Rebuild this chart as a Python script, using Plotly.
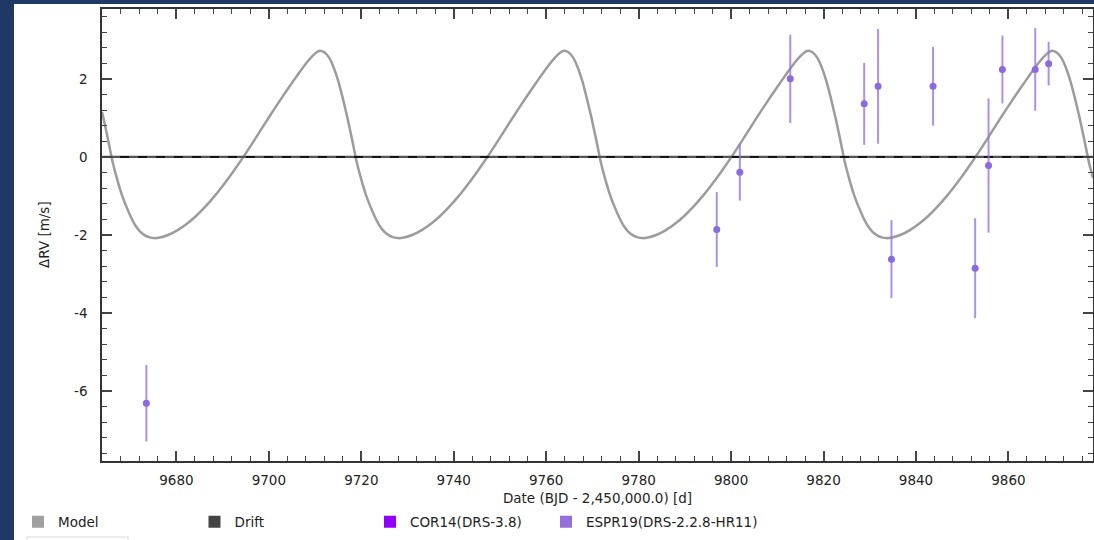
import plotly.graph_objects as go

# ---------------- data ----------------
model_days = [
    9663.9, 9664.2, 9665.2, 9666.2, 9667.2, 9668.2, 9669.2, 9670.2, 9671.2, 9672.2,
    9673.2, 9674.2, 9675.2, 9676.2, 9678.2, 9680.2, 9682.2, 9684.2, 9686.2, 9688.2,
    9690.2, 9692.2, 9694.2, 9696.2, 9698.2, 9700.2, 9702.2, 9704.2, 9706.2, 9708.2,
    9709.2, 9710.2, 9711.0,
    9712.0, 9713.0, 9714.0, 9715.0, 9716.0, 9717.0, 9718.0, 9719.0, 9720.0, 9721.0,
    9722.0, 9723.0, 9724.0, 9725.0, 9726.0, 9727.0, 9728.0, 9729.0, 9731.0, 9733.0,
    9735.0, 9737.0, 9739.0, 9741.0, 9743.0, 9745.0, 9747.0, 9749.0, 9751.0, 9753.0,
    9755.0, 9757.0, 9759.0, 9761.0, 9762.0, 9763.0, 9763.8,
    9764.8, 9765.8, 9766.8, 9767.8, 9768.8, 9769.8, 9770.8, 9771.8, 9772.8, 9773.8,
    9774.8, 9775.8, 9776.8, 9777.8, 9778.8, 9779.8, 9780.8, 9781.8, 9783.8, 9785.8,
    9787.8, 9789.8, 9791.8, 9793.8, 9795.8, 9797.8, 9799.8, 9801.8, 9803.8, 9805.8,
    9807.8, 9809.8, 9811.8, 9813.8, 9814.8, 9815.8, 9816.6,
    9817.6, 9818.6, 9819.6, 9820.6, 9821.6, 9822.6, 9823.6, 9824.6, 9825.6, 9826.6,
    9827.6, 9828.6, 9829.6, 9830.6, 9831.6, 9832.6, 9833.6, 9834.6, 9836.6, 9838.6,
    9840.6, 9842.6, 9844.6, 9846.6, 9848.6, 9850.6, 9852.6, 9854.6, 9856.6, 9858.6,
    9860.6, 9862.6, 9864.6, 9866.6, 9867.6, 9868.6, 9869.4,
    9870.4, 9871.4, 9872.4, 9873.4, 9874.4, 9875.4, 9876.4, 9877.4, 9878.3,
]
model_rv = [
    1.15, 1.00, 0.45, -0.13, -0.58, -0.97, -1.28, -1.55, -1.77, -1.92,
    -2.01, -2.06, -2.08, -2.07, -2.00, -1.88, -1.72, -1.52, -1.28, -1.01,
    -0.71, -0.39, -0.05, 0.31, 0.68, 1.05, 1.41, 1.76, 2.10, 2.42,
    2.56, 2.67, 2.72,
    2.68, 2.55, 2.30, 1.95, 1.50, 1.00, 0.45, -0.13, -0.58, -0.97,
    -1.28, -1.55, -1.77, -1.92, -2.01, -2.06, -2.08, -2.07, -2.00, -1.88,
    -1.72, -1.52, -1.28, -1.01, -0.71, -0.39, -0.05, 0.31, 0.68, 1.05,
    1.41, 1.76, 2.10, 2.42, 2.56, 2.67, 2.72,
    2.68, 2.55, 2.30, 1.95, 1.50, 1.00, 0.45, -0.13, -0.58, -0.97,
    -1.28, -1.55, -1.77, -1.92, -2.01, -2.06, -2.08, -2.07, -2.00, -1.88,
    -1.72, -1.52, -1.28, -1.01, -0.71, -0.39, -0.05, 0.31, 0.68, 1.05,
    1.41, 1.76, 2.10, 2.42, 2.56, 2.67, 2.72,
    2.68, 2.55, 2.30, 1.95, 1.50, 1.00, 0.45, -0.13, -0.58, -0.97,
    -1.28, -1.55, -1.77, -1.92, -2.01, -2.06, -2.08, -2.07, -2.00, -1.88,
    -1.72, -1.52, -1.28, -1.01, -0.71, -0.39, -0.05, 0.31, 0.68, 1.05,
    1.41, 1.76, 2.10, 2.42, 2.56, 2.67, 2.72,
    2.68, 2.55, 2.30, 1.95, 1.50, 1.00, 0.45, -0.13, -0.54,
]

drift_days = [9663.9, 9878.3]
drift_rv = [0.0, 0.0]

espr_days = [9673.5, 9796.9, 9801.9, 9812.8, 9828.8, 9831.8, 9834.7,
             9843.7, 9852.8, 9855.7, 9858.7, 9865.8, 9868.7]
espr_rv = [-6.31, -1.86, -0.39, 2.00, 1.36, 1.81, -2.62,
           1.81, -2.85, -0.22, 2.24, 2.24, 2.39]
espr_err = [0.98, 0.96, 0.73, 1.13, 1.05, 1.47, 1.00,
            1.01, 1.28, 1.72, 0.87, 1.06, 0.56]

x_tick_vals = [9680, 9700, 9720, 9740, 9760, 9780, 9800, 9820, 9840, 9860]
x_tick_text = ["9680", "9700", "9720", "9740", "9760", "9780", "9800", "9820", "9840", "9860"]
y_tick_vals = [-6, -4, -2, 0, 2]
y_tick_text = ["-6", "-4", "-2", "0", "2"]

legend_names = ["Model", "Drift", "COR14(DRS-3.8)", "ESPR19(DRS-2.2.8-HR11)"]
legend_colors = ["#a0a0a0", "#444444", "#8f00ff", "#9370db"]

x_range = [9663.9, 9878.3]
y_range = [-7.79, 3.79]

FONT = "DejaVu Sans"
TXT = "#222222"

# ---------------- figure ----------------
fig = go.Figure()

fig.add_trace(go.Scatter(
    x=model_days, y=model_rv, mode="lines",
    line=dict(color="#9c9c9c", width=2.5, shape="spline", smoothing=0.5),
    showlegend=False, hoverinfo="skip"))

fig.add_trace(go.Scatter(
    x=drift_days, y=drift_rv, mode="lines",
    line=dict(color="#555555", width=2.2),
    showlegend=False, hoverinfo="skip"))
fig.add_trace(go.Scatter(
    x=drift_days, y=drift_rv, mode="lines",
    line=dict(color="#000000", width=1.4, dash="dash"),
    showlegend=False, hoverinfo="skip"))

fig.add_trace(go.Scatter(
    x=espr_days, y=espr_rv, mode="markers",
    marker=dict(color="#8a6ade", size=7),
    error_y=dict(type="data", array=espr_err, visible=True,
                 color="rgba(150,118,230,0.8)", thickness=2, width=0),
    showlegend=False))

legend_ids = ["legend", "legend2", "legend3", "legend4"]
for name, col, lid in zip(legend_names, legend_colors, legend_ids):
    fig.add_trace(go.Scatter(
        x=[None], y=[None], mode="markers", name=name,
        marker=dict(symbol="square", size=12, color=col),
        showlegend=True, legend=lid))

W, H = 1094, 540
L, R, T, B = 102, 1, 9, 79
pw, ph = W - L - R, H - T - B


def px2paper_x(px):
    return (px - L) / pw


def px2paper_y(py):
    return (H - B - py) / ph


shapes = [
    dict(type="rect", xref="paper", yref="paper",
         x0=px2paper_x(-2), x1=px2paper_x(14), y0=px2paper_y(542), y1=px2paper_y(-2),
         fillcolor="#1f3864", line=dict(width=0), layer="below"),
    dict(type="rect", xref="paper", yref="paper",
         x0=px2paper_x(-2), x1=px2paper_x(1096), y0=px2paper_y(4), y1=px2paper_y(-2),
         fillcolor="#1f3864", line=dict(width=0), layer="below"),
    dict(type="rect", xref="paper", yref="paper",
         x0=px2paper_x(27), x1=px2paper_x(128), y0=px2paper_y(552), y1=px2paper_y(537),
         fillcolor="white", line=dict(color="#d8d8d8", width=1)),
]

axis_common = dict(
    showline=True, linecolor="#333333", linewidth=1.5, mirror="allticks",
    ticks="inside", ticklen=10, tickwidth=1.5, tickcolor="#444444",
    showgrid=False, zeroline=False,
    tickfont=dict(family=FONT, size=13.5, color=TXT),
)

fig.update_xaxes(
    range=x_range, tickmode="array", tickvals=x_tick_vals, ticktext=x_tick_text,
    minor=dict(ticks="inside", ticklen=5, tickwidth=1.3, tickcolor="#444444", dtick=4, tick0=9680, showgrid=False),
    title=dict(text="Date (BJD - 2,450,000.0) [d]", font=dict(family=FONT, size=13.5, color=TXT), standoff=10),
    ticklabelstandoff=6,
    **axis_common)
fig.update_yaxes(
    range=y_range, tickmode="array", tickvals=y_tick_vals, ticktext=y_tick_text,
    minor=dict(ticks="inside", ticklen=5, tickwidth=1.3, tickcolor="#444444", dtick=0.4, tick0=0, showgrid=False),
    ticklabelstandoff=10,
    **axis_common)

annotations = [
    dict(text="ΔRV [m/s]", xref="paper", yref="paper",
         x=px2paper_x(44), y=px2paper_y(235), xanchor="center", yanchor="middle",
         textangle=-90, showarrow=False, font=dict(family=FONT, size=13.5, color=TXT)),
]

legend_text_x = [58, 234.5, 410, 586]
legend_layouts = {}
for lid, tx in zip(legend_ids, legend_text_x):
    legend_layouts[lid] = dict(
        xref="container", yref="container",
        x=(tx - 40) / W, y=1 - 522 / H, xanchor="left", yanchor="middle",
        orientation="h", font=dict(family=FONT, size=13.5, color=TXT),
        bgcolor="rgba(0,0,0,0)", itemsizing="trace")

fig.update_layout(
    width=W, height=H,
    margin=dict(l=L, r=R, t=T, b=B, autoexpand=False),
    paper_bgcolor="white", plot_bgcolor="white",
    shapes=shapes, annotations=annotations,
    showlegend=True,
    **legend_layouts,
)

fig.write_html(
    "out.html",
    config={"displayModeBar": False},
    post_script="document.body.style.margin='0';document.body.style.overflow='hidden';",
)
